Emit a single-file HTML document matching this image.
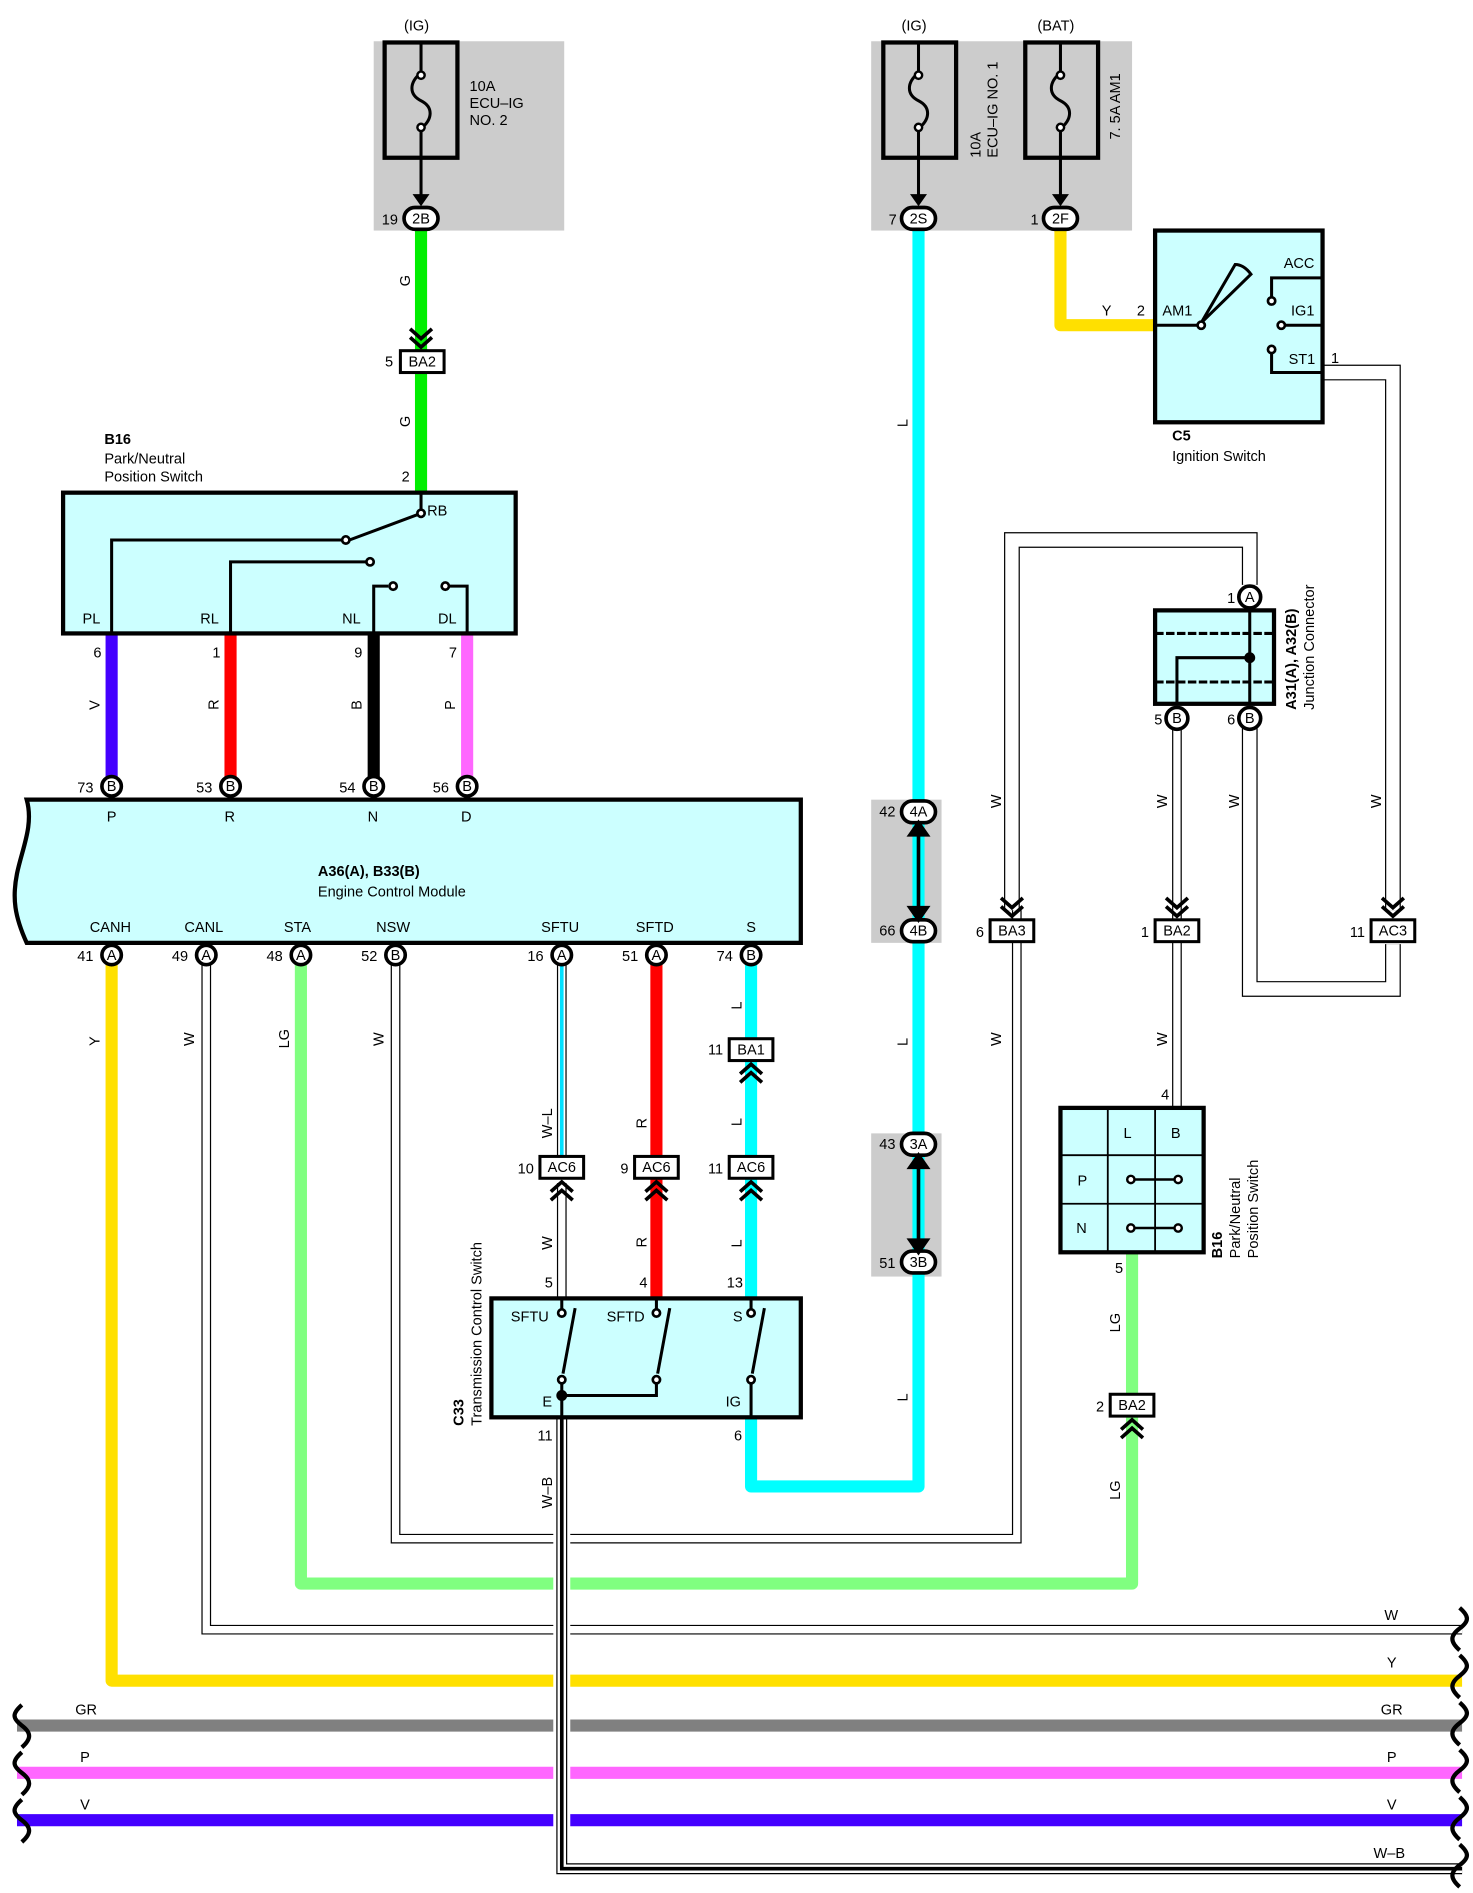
<!DOCTYPE html>
<html><head><meta charset="utf-8"><style>
html,body{margin:0;padding:0;background:#fff}
svg{display:block}
text{font-family:"Liberation Sans",sans-serif;font-size:12px;fill:#000}
.b{font-weight:bold}
</style></head><body>
<svg width="1473" height="1893" viewBox="0 0 1214 1560" preserveAspectRatio="none" xmlns="http://www.w3.org/2000/svg">
<defs>
<g id="chd"><path d="M-9,-8 L0,0 L9,-8 M-9,-15 L0,-7 L9,-15" fill="none" stroke="#000" stroke-width="3"/></g>
<g id="chu"><path d="M-9,8 L0,0 L9,8 M-9,15 L0,7 L9,15" fill="none" stroke="#000" stroke-width="3"/></g>
</defs>
<rect width="1214" height="1560" fill="#fff"/>

<!-- gray boxes -->
<rect x="308" y="34" width="157" height="156" fill="#cccccc"/>
<rect x="718" y="34" width="215" height="156" fill="#cccccc"/>
<rect x="718" y="659" width="58" height="118" fill="#cccccc"/>
<rect x="718" y="934" width="58" height="118" fill="#cccccc"/>

<!-- fuses -->
<g fill="none" stroke="#000" stroke-width="3.5">
<rect x="317" y="35" width="60" height="95"/>
<rect x="728" y="35" width="60" height="95"/>
<rect x="845" y="35" width="60" height="95"/>
</g>
<g fill="none" stroke="#000" stroke-width="2.5">
<path d="M347,35 L347,60 C337,68 337,78 347,83 C357,88 357,98 347,106 L347,165"/>
<path d="M757,35 L757,60 C747,68 747,78 757,83 C767,88 767,98 757,106 L757,165"/>
<path d="M874,35 L874,60 C864,68 864,78 874,83 C884,88 884,98 874,106 L874,165"/>
</g>
<g fill="#fff" stroke="#000" stroke-width="2"><circle cx="347" cy="62" r="3"/><circle cx="347" cy="105" r="3"/><circle cx="757" cy="62" r="3"/><circle cx="757" cy="105" r="3"/><circle cx="874" cy="62" r="3"/><circle cx="874" cy="105" r="3"/></g>
<path d="M340,160 L347,170 L354,160 Z M750,160 L757,170 L764,160 Z M867,160 L874,170 L881,160 Z" fill="#000"/>
<text x="333" y="25">(IG)</text><text x="743" y="25">(IG)</text><text x="855" y="25">(BAT)</text>
<text x="387" y="75">10A</text><text x="387" y="89">ECU–IG</text><text x="387" y="103">NO. 2</text>
<text transform="translate(808,130) rotate(-90)">10A</text>
<text transform="translate(822,130) rotate(-90)">ECU–IG NO. 1</text>
<text transform="translate(923,115) rotate(-90)">7. 5A AM1</text>

<!-- wires thick -->
<g fill="none" stroke-width="10" stroke-linejoin="round">
<path d="M347,190 L347,406" stroke="#00ee00"/>
<path d="M757,190 L757,1225 L619,1225 L619,1168" stroke="#00ffff"/>
<path d="M874,190 L874,268 L952,268" stroke="#ffe000"/>
<path d="M92,522 L92,648" stroke="#4400ff"/>
<path d="M190,522 L190,648" stroke="#ff0000"/>
<path d="M308,522 L308,648" stroke="#000"/>
<path d="M385,522 L385,648" stroke="#ff66ff"/>
<path d="M92,787 L92,1385 L1205,1385" stroke="#ffe000"/>
<path d="M248,787 L248,1305 L933,1305 L933,1032" stroke="#80ff80"/>
<path d="M541,787 L541,1070" stroke="#ff0000"/>
<path d="M619,787 L619,1070" stroke="#00ffff"/>
<path d="M14,1422 L1205,1422" stroke="#808080"/>
<path d="M14,1461 L1205,1461" stroke="#ff66ff"/>
<path d="M14,1500 L1205,1500" stroke="#4400ff"/>
</g>
<!-- W-L -->
<path d="M463,787 L463,952" stroke="#000" stroke-width="8" fill="none"/>
<path d="M463,787 L463,952" stroke="#fff" stroke-width="6" fill="none"/>
<path d="M463,787 L463,952" stroke="#00e0ff" stroke-width="3" fill="none"/>
<!-- W wires -->
<g fill="none" stroke="#000" stroke-width="8">
<path d="M170,787 L170,1343 L1205,1343"/>
<path d="M326,787 L326,1268 L838,1268 L838,750"/>
<path d="M463,975 L463,1070"/>
<path d="M970,600 L970,913"/>
</g>
<g fill="none" stroke="#000" stroke-width="13">
<path d="M1030,482 L1030,445 L834,445 L834,750"/>
<path d="M1090,307 L1148,307 L1148,750"/>
<path d="M1148,778 L1148,815 L1030,815 L1030,600"/>
</g>
<g fill="none" stroke="#fff" stroke-width="6">
<path d="M170,787 L170,1343 L1205,1343"/>
<path d="M326,787 L326,1268 L838,1268 L838,750"/>
<path d="M463,975 L463,1070"/>
<path d="M970,600 L970,913"/>
</g>
<g fill="none" stroke="#fff" stroke-width="11">
<path d="M1030,482 L1030,445 L834,445 L834,750"/>
<path d="M1090,307 L1148,307 L1148,750"/>
<path d="M1148,778 L1148,815 L1030,815 L1030,600"/>
</g>
<!-- W-B -->
<path d="M463,1168 L463,1540 L1205,1540" fill="none" stroke="#fff" stroke-width="14"/>
<path d="M463,1168 L463,1540 L1205,1540" fill="none" stroke="#000" stroke-width="9"/>
<path d="M463,1168 L463,1540 L1205,1540" fill="none" stroke="#fff" stroke-width="7"/>
<path d="M463,1150 L463,1540 L1205,1540" fill="none" stroke="#000" stroke-width="3"/>

<!-- braces -->
<g fill="none" stroke="#000" stroke-width="3.5">
<path d="M18,1405 C10,1412 10,1416 18,1422 C26,1428 26,1433 18,1440"/>
<path d="M18,1444 C10,1451 10,1455 18,1461 C26,1467 26,1472 18,1479"/>
<path d="M18,1483 C10,1490 10,1494 18,1500 C26,1506 26,1511 18,1518"/>
<path d="M1203,1325 C1211,1332 1211,1336 1203,1342 C1195,1348 1195,1353 1203,1360"/>
<path d="M1203,1364 C1211,1371 1211,1375 1203,1381 C1195,1387 1195,1392 1203,1399"/>
<path d="M1203,1403 C1211,1410 1211,1414 1203,1420 C1195,1426 1195,1431 1203,1438"/>
<path d="M1203,1442 C1211,1449 1211,1453 1203,1459 C1195,1465 1195,1470 1203,1477"/>
<path d="M1203,1481 C1211,1488 1211,1492 1203,1498 C1195,1504 1195,1509 1203,1516"/>
<path d="M1203,1520 C1211,1527 1211,1531 1203,1537 C1195,1543 1195,1548 1203,1555"/>
</g>
<text x="62" y="1413">GR</text><text x="66" y="1452">P</text><text x="66" y="1491">V</text>
<text x="1138" y="1413">GR</text><text x="1143" y="1452">P</text><text x="1143" y="1491">V</text>
<text x="1141" y="1335">W</text><text x="1143" y="1374">Y</text><text x="1132" y="1531">W–B</text>

<!-- B16 box -->
<text x="86" y="366" class="b">B16</text><text x="86" y="382">Park/Neutral</text><text x="86" y="397">Position Switch</text>
<rect x="52" y="406" width="373" height="116" fill="#ccffff" stroke="#000" stroke-width="3.5"/>
<g fill="none" stroke="#000" stroke-width="2.5">
<path d="M347,406 L347,423 L288,445"/>
<path d="M282,445 L92,445 L92,522"/>
<path d="M302,463 L190,463 L190,522"/>
<path d="M320,483 L308,483 L308,522"/>
<path d="M370,483 L385,483 L385,522"/>
</g>
<g fill="#fff" stroke="#000" stroke-width="2.2"><circle cx="347" cy="423" r="3"/><circle cx="285" cy="445" r="3"/><circle cx="305" cy="463" r="3"/><circle cx="324" cy="483" r="3"/><circle cx="367" cy="483" r="3"/></g>
<text x="352" y="425">RB</text><text x="68" y="514">PL</text><text x="165" y="514">RL</text><text x="282" y="514">NL</text><text x="361" y="514">DL</text>
<text x="331" y="397">2</text>
<text x="77" y="542">6</text><text x="175" y="542">1</text><text x="292" y="542">9</text><text x="370" y="542">7</text>

<!-- ECM -->
<path d="M22,659 L660,659 L660,777 L22,777 C12,755 10,740 14,720 C18,700 28,680 22,659 Z" fill="#ccffff" stroke="#000" stroke-width="3.5"/>
<text x="88" y="677">P</text><text x="185" y="677">R</text><text x="303" y="677">N</text><text x="380" y="677">D</text>
<text x="262" y="722" class="b">A36(A), B33(B)</text><text x="262" y="739">Engine Control Module</text>
<text x="74" y="768">CANH</text><text x="152" y="768">CANL</text><text x="234" y="768">STA</text><text x="310" y="768">NSW</text>
<text x="446" y="768">SFTU</text><text x="524" y="768">SFTD</text><text x="615" y="768">S</text>

<!-- round connectors -->
<g fill="#fff" stroke="#000" stroke-width="3">
<circle cx="92" cy="648" r="8"/><circle cx="190" cy="648" r="8"/><circle cx="308" cy="648" r="8"/><circle cx="385" cy="648" r="8"/>
<circle cx="92" cy="787" r="8"/><circle cx="170" cy="787" r="8"/><circle cx="248" cy="787" r="8"/><circle cx="326" cy="787" r="8"/>
<circle cx="463" cy="787" r="8"/><circle cx="541" cy="787" r="8"/><circle cx="619" cy="787" r="8"/>
<circle cx="1030" cy="492" r="9"/><circle cx="970" cy="592" r="9"/><circle cx="1030" cy="592" r="9"/>
</g>
<g fill="#fff" stroke="#000" stroke-width="3">
<rect x="333" y="171" width="28" height="18" rx="9"/><rect x="743" y="171" width="28" height="18" rx="9"/><rect x="860" y="171" width="28" height="18" rx="9"/>
<rect x="743" y="660" width="28" height="18" rx="9"/><rect x="743" y="758" width="28" height="18" rx="9"/>
<rect x="743" y="934" width="28" height="18" rx="9"/><rect x="743" y="1031" width="28" height="18" rx="9"/>
</g>
<g font-size="11" text-anchor="middle">
<text x="92" y="652">B</text><text x="190" y="652">B</text><text x="308" y="652">B</text><text x="385" y="652">B</text>
<text x="92" y="791">A</text><text x="170" y="791">A</text><text x="248" y="791">A</text><text x="326" y="791">B</text>
<text x="463" y="791">A</text><text x="541" y="791">A</text><text x="619" y="791">B</text>
<text x="1030" y="496">A</text><text x="970" y="596">B</text><text x="1030" y="596">B</text>
<text x="347" y="184">2B</text><text x="757" y="184">2S</text><text x="874" y="184">2F</text>
<text x="757" y="673">4A</text><text x="757" y="771">4B</text><text x="757" y="947">3A</text><text x="757" y="1044">3B</text>
</g>
<g text-anchor="end">
<text x="328" y="185">19</text><text x="739" y="185">7</text><text x="856" y="185">1</text>
<text x="77" y="653">73</text><text x="175" y="653">53</text><text x="293" y="653">54</text><text x="370" y="653">56</text>
<text x="77" y="792">41</text><text x="155" y="792">49</text><text x="233" y="792">48</text><text x="311" y="792">52</text>
<text x="448" y="792">16</text><text x="526" y="792">51</text><text x="604" y="792">74</text>
<text x="738" y="673">42</text><text x="738" y="771">66</text><text x="738" y="947">43</text><text x="738" y="1045">51</text>
<text x="1018" y="497">1</text><text x="958" y="597">5</text><text x="1018" y="597">6</text>
</g>
<!-- double arrows in gray boxes -->
<g stroke="#000" stroke-width="3" fill="#000">
<path d="M757,680 L757,756"/><path d="M750,688 L757,678 L764,688 Z"/><path d="M750,748 L757,758 L764,748 Z"/>
<path d="M757,954 L757,1030"/><path d="M750,962 L757,952 L764,962 Z"/><path d="M750,1022 L757,1032 L764,1022 Z"/>
</g>

<!-- box connectors -->
<g fill="#fff" stroke="#000" stroke-width="2.5">
<rect x="330" y="289" width="36" height="18"/>
<rect x="601" y="856" width="36" height="18"/>
<rect x="445" y="953" width="36" height="18"/><rect x="523" y="953" width="36" height="18"/><rect x="601" y="953" width="36" height="18"/>
<rect x="816" y="758" width="36" height="18"/><rect x="952" y="758" width="36" height="18"/><rect x="1130" y="758" width="36" height="18"/>
<rect x="915" y="1149" width="36" height="18"/>
</g>
<g font-size="11" text-anchor="middle">
<text x="348" y="302">BA2</text><text x="619" y="869">BA1</text>
<text x="463" y="966">AC6</text><text x="541" y="966">AC6</text><text x="619" y="966">AC6</text>
<text x="834" y="771">BA3</text><text x="970" y="771">BA2</text><text x="1148" y="771">AC3</text><text x="933" y="1162">BA2</text>
</g>
<g text-anchor="end">
<text x="324" y="302">5</text><text x="596" y="869">11</text><text x="440" y="967">10</text><text x="518" y="967">9</text><text x="596" y="967">11</text>
<text x="811" y="772">6</text><text x="947" y="772">1</text><text x="1125" y="772">11</text><text x="910" y="1163">2</text>
</g>
<use href="#chd" x="347" y="286"/>
<use href="#chd" x="834" y="755"/><use href="#chd" x="970" y="755"/><use href="#chd" x="1148" y="755"/>
<use href="#chu" x="619" y="877"/>
<use href="#chu" x="463" y="974"/><use href="#chu" x="541" y="974"/><use href="#chu" x="619" y="974"/>
<use href="#chu" x="933" y="1170"/>

<!-- wire color labels (rotated) -->
<g>
<text transform="translate(338,236) rotate(-90)">G</text>
<text transform="translate(338,352) rotate(-90)">G</text>
<text transform="translate(748,352) rotate(-90)">L</text>
<text transform="translate(748,862) rotate(-90)">L</text>
<text transform="translate(748,1155) rotate(-90)">L</text>
<text transform="translate(82,585) rotate(-90)">V</text>
<text transform="translate(180,585) rotate(-90)">R</text>
<text transform="translate(298,585) rotate(-90)">B</text>
<text transform="translate(375,585) rotate(-90)">P</text>
<text transform="translate(82,862) rotate(-90)">Y</text>
<text transform="translate(160,862) rotate(-90)">W</text>
<text transform="translate(238,864) rotate(-90)">LG</text>
<text transform="translate(316,862) rotate(-90)">W</text>
<text transform="translate(455,938) rotate(-90)">W–L</text>
<text transform="translate(533,930) rotate(-90)">R</text>
<text transform="translate(611,832) rotate(-90)">L</text>
<text transform="translate(611,928) rotate(-90)">L</text>
<text transform="translate(455,1030) rotate(-90)">W</text>
<text transform="translate(533,1028) rotate(-90)">R</text>
<text transform="translate(611,1028) rotate(-90)">L</text>
<text transform="translate(455,1243) rotate(-90)">W–B</text>
<text transform="translate(825,666) rotate(-90)">W</text>
<text transform="translate(962,666) rotate(-90)">W</text>
<text transform="translate(1021,666) rotate(-90)">W</text>
<text transform="translate(1138,666) rotate(-90)">W</text>
<text transform="translate(825,862) rotate(-90)">W</text>
<text transform="translate(962,862) rotate(-90)">W</text>
<text transform="translate(923,1098) rotate(-90)">LG</text>
<text transform="translate(923,1236) rotate(-90)">LG</text>
</g>
<text x="908" y="260">Y</text><text x="937" y="260">2</text>

<!-- C5 ignition switch -->
<rect x="952" y="190" width="138" height="158" fill="#ccffff" stroke="#000" stroke-width="3.5"/>
<g fill="none" stroke="#000" stroke-width="2.5">
<path d="M952,268 L988,268"/>
<path d="M990,266 L1018,218 Q1025,218 1031,226 Z"/>
<path d="M1090,229 L1048,229 L1048,245"/>
<path d="M1056,268 L1090,268"/>
<path d="M1048,290 L1048,307 L1090,307"/>
</g>
<g fill="#fff" stroke="#000" stroke-width="2.2"><circle cx="990" cy="268" r="3"/><circle cx="1048" cy="248" r="3"/><circle cx="1056" cy="268" r="3"/><circle cx="1048" cy="288" r="3"/></g>
<text x="958" y="260">AM1</text><text x="1058" y="221">ACC</text><text x="1064" y="260">IG1</text><text x="1062" y="300">ST1</text><text x="1097" y="299">1</text>
<text x="966" y="363" class="b">C5</text><text x="966" y="380">Ignition Switch</text>

<!-- Junction connector -->
<rect x="952" y="503" width="98" height="77" fill="#ccffff" stroke="#000" stroke-width="3.5"/>
<g stroke="#000" stroke-width="2.5" fill="none">
<path d="M952,522 L1050,522" stroke-dasharray="7,2"/>
<path d="M952,562 L1050,562" stroke-dasharray="7,2"/>
<path d="M1030,501 L1030,580"/>
<path d="M1030,542 L970,542 L970,580"/>
</g>
<circle cx="1030" cy="542" r="4.5" fill="#000"/>
<text transform="translate(1068,585) rotate(-90)" class="b">A31(A), A32(B)</text>
<text transform="translate(1083,585) rotate(-90)">Junction Connector</text>

<!-- B16 grid switch -->
<rect x="874" y="913" width="118" height="119" fill="#ccffff" stroke="#000" stroke-width="3.5"/>
<g stroke="#000" stroke-width="1.5"><path d="M913,913 L913,1032 M952,913 L952,1032 M874,952 L992,952 M874,992 L992,992"/></g>
<text x="926" y="938">L</text><text x="965" y="938">B</text><text x="888" y="977">P</text><text x="887" y="1016">N</text>
<g stroke="#000" stroke-width="2"><path d="M932,972 L971,972 M932,1012 L971,1012"/></g>
<g fill="#fff" stroke="#000" stroke-width="2"><circle cx="932" cy="972" r="3"/><circle cx="971" cy="972" r="3"/><circle cx="932" cy="1012" r="3"/><circle cx="971" cy="1012" r="3"/></g>
<text x="957" y="906">4</text><text x="919" y="1049">5</text>
<text transform="translate(1007,1037) rotate(-90)" class="b">B16</text>
<text transform="translate(1022,1037) rotate(-90)">Park/Neutral</text>
<text transform="translate(1037,1037) rotate(-90)">Position Switch</text>

<!-- C33 transmission control switch -->
<rect x="405" y="1070" width="255" height="98" fill="#ccffff" stroke="#000" stroke-width="3.5"/>
<g fill="none" stroke="#000" stroke-width="2.5">
<path d="M463,1070 L463,1080 M541,1070 L541,1080 M619,1070 L619,1080"/>
<path d="M474,1078 L464,1132 M552,1078 L542,1132 M630,1078 L620,1132"/>
<path d="M463,1140 L463,1170 M463,1150 L541,1150 L541,1140 M619,1140 L619,1168"/>
</g>
<g fill="#fff" stroke="#000" stroke-width="2.2"><circle cx="463" cy="1082" r="3"/><circle cx="541" cy="1082" r="3"/><circle cx="619" cy="1082" r="3"/><circle cx="463" cy="1137" r="3"/><circle cx="541" cy="1137" r="3"/><circle cx="619" cy="1137" r="3"/></g>
<circle cx="463" cy="1150" r="4.5" fill="#000"/>
<text x="421" y="1089">SFTU</text><text x="500" y="1089">SFTD</text><text x="604" y="1089">S</text>
<text x="447" y="1159">E</text><text x="598" y="1159">IG</text>
<text x="449" y="1061">5</text><text x="527" y="1061">4</text><text x="599" y="1061">13</text>
<text x="443" y="1187">11</text><text x="605" y="1187">6</text>
<text transform="translate(382,1175) rotate(-90)" class="b">C33</text>
<text transform="translate(397,1175) rotate(-90)">Transmission Control Switch</text>
</svg>
</body></html>
